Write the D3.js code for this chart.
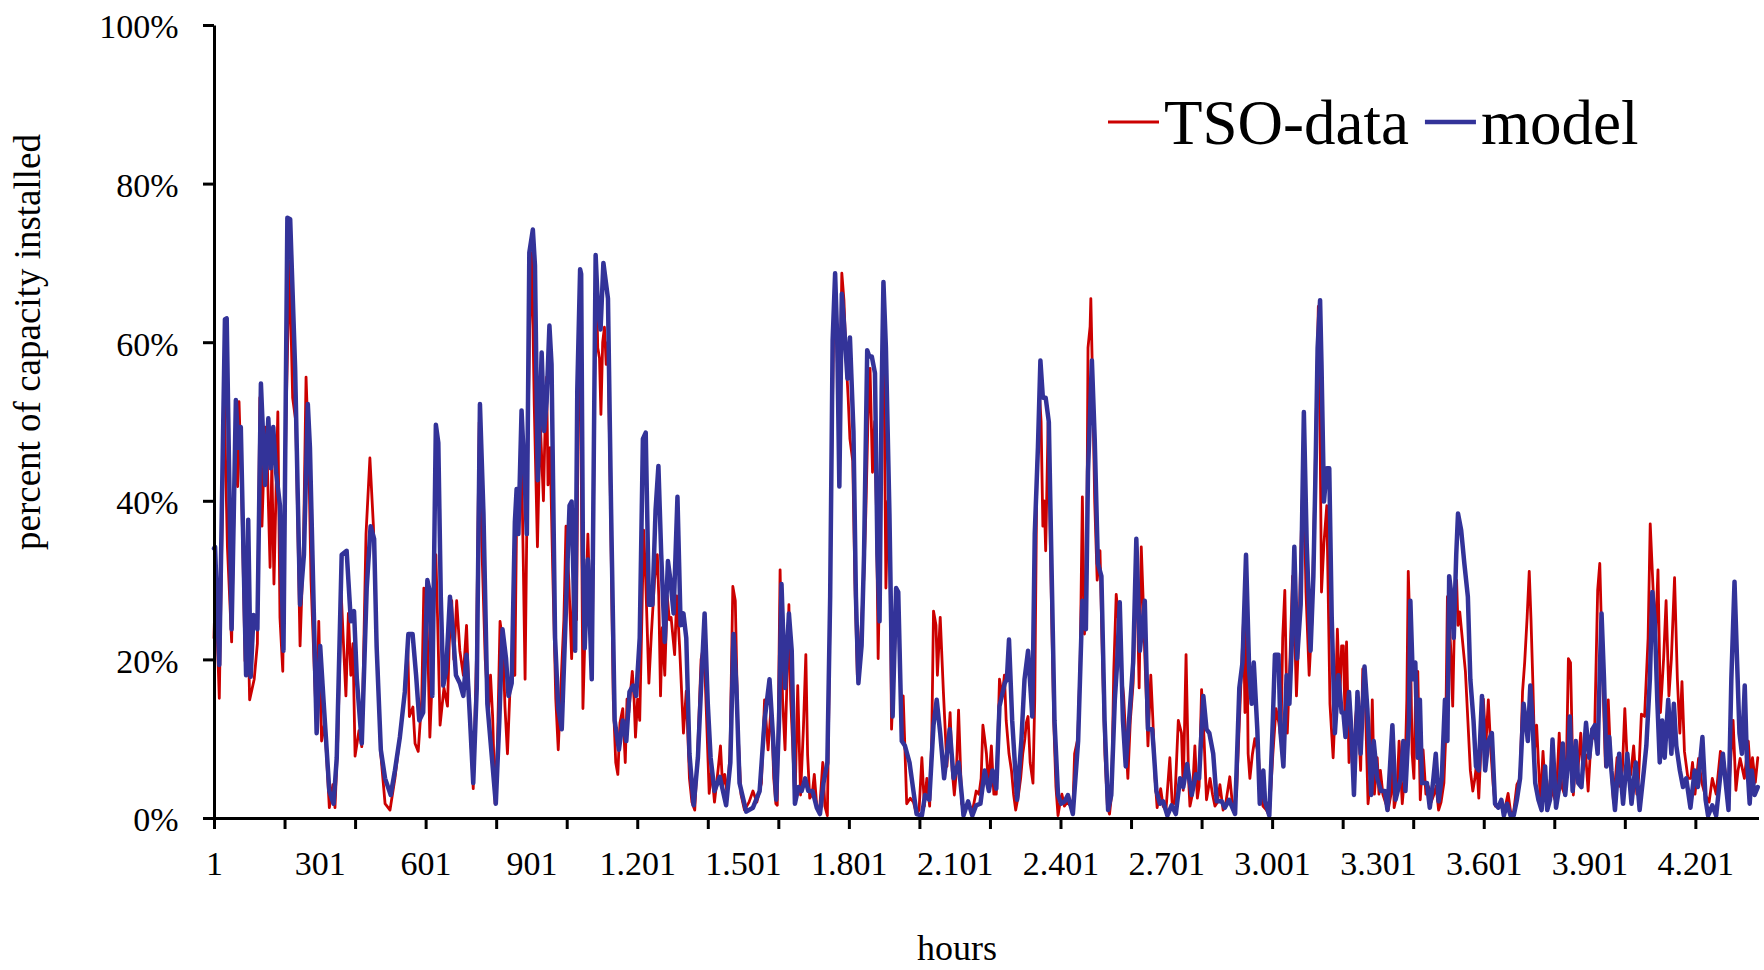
<!DOCTYPE html>
<html>
<head>
<meta charset="utf-8">
<script src="https://cdnjs.cloudflare.com/ajax/libs/d3/7.8.5/d3.min.js"></script>
<style>
  body { margin: 0; background: #fff; }
  svg { display: block; font-family: "Liberation Serif", "Times New Roman", serif; }
  .axis path, .axis line { stroke: #000; stroke-width: 3; }
  .axis text { font-size: 34px; fill: #000; font-family: "Liberation Serif", serif; }
</style>
</head>
<body>
<svg id="chart"></svg>
<script>
// ticks every 200 hours, labels every 300 hours (as in the original spreadsheet chart)
const xTickHours = d3.range(1, 4202, 200);
const xLabelHours = d3.range(1, 4202, 300);
const yTicks = [0, 20, 40, 60, 80, 100];
const lastHour = 4380;
const seriesNames = ["TSO-data", "model"];

// [hour, percent of capacity installed]
const tso = [
  [1,22.7],[5,30],[16,15.1],[25,40],[30,55],[34,44.6],[39,34.2],[51,22.2],[60,45],[68,41.8],[72,52.5],[80,40],
  [89,19.8],[95,30],[102,14.9],[115,17.5],[124,22],[131,53],[137,36.8],[146,49.3],[152,45],[160,31.6],[165,45],
  [171,29.5],[182,51.2],[188,25.3],[196,18.5],[205,50],[215,70.2],[224,53],[233,50],[245,21.7],[255,35],[262,55.6],
  [270,45],[276,30],[286,18],[292,11],[298,24.8],[306,9.7],[315,12],[328,1.3],[338,4.2],[344,1.3],[352,10],[362,28],
  [370,20.1],[375,15.4],[382,25.8],[389,18],[395,22],[401,7.8],[412,11],[420,9],[432,35.8],[443,45.4],[453,36.8],
  [462,22.7],[474,8],[486,1.8],[500,1],[514,5],[527,9.9],
  [540,15],[550,22],[555,12.8],[565,14],[571,9.4],[580,8.4],[590,15],[596,29],[603,28],[608,20],[613,10.2],[620,18],
  [626,30],[630,33.2],[635,25],[642,11.7],[653,16.4],[663,14.1],[668,22],[675,27.4],[681,20],[689,27.4],[698,21.1],
  [708,18],[717,24.3],[725,14],[736,3.7],[745,20],[753,49.9],[760,35],[770,20],[779,13.3],[785,18],[791,12.8],
  [798,1.8],[805,10],[812,24.8],[820,22],[826,14],[833,8.1],[840,16],[848,18],[854,18],[859,38],[864,40.5],[873,45],
  [878,32],[883,17.5],[890,45],[896,62],[902,71.3],[909,52],[918,34.2],[926,50],[935,40],[940,50],[944,55.6],
  [948,42],[954,46.7],[962,30],[970,15],[977,8.6],[987,19.1],[993,25],[999,36.8],[1007,30],[1015,20.1],[1022,33],
  [1029,25],[1034,54],[1039,65],[1047,13.8],[1054,25],[1061,35.8],[1068,25],[1073,18],[1080,55],[1085,68],
  [1089,59.3],[1094,58],[1098,50.9],[1103,60],[1108,61.9],[1113,57.2],[1118,60],[1125,40],[1133,15],[1140,7],
  [1146,5.5],[1152,12],[1160,13.8],[1167,7],[1172,15],[1177,13.3],[1187,18.5],[1192,15],[1196,10.2],[1202,15],
  [1208,12.3],[1214,25],[1219,36.3],[1225,30],[1234,17],[1241,23.2],[1250,30],[1258,33.2],[1262,28],[1267,15.4],
  [1272,24],[1279,18],[1286,28],[1292,25],[1297,25.3],[1307,20.6],[1313,28],[1321,21.7],[1332,10.7],[1340,16],
  [1349,5],[1356,2],[1364,1],[1372,8],[1382,20],[1390,22],[1397,13.3],[1405,3.1],[1412,6],[1420,2],[1430,6],
  [1437,9.1],[1443,4],[1449,5.5],[1456,3],[1464,8],[1472,29.2],[1479,27.4],[1486,11.7],[1495,3],[1505,1],[1518,2],
  [1529,3.4],[1540,2],[1553,4.4],[1562,14.9],[1572,8.6],[1581,14.4],[1588,5],[1594,1.8],[1598,1.6],
  [1606,31.3],[1613,15],[1620,8.6],[1626,18],[1631,26.9],[1636,15],[1641,10],[1648,1.8],[1656,16.7],[1664,2.9],
  [1672,11.2],[1679,20.6],[1684,8],[1690,2.5],[1697,3],[1703,5.5],[1710,1.5],[1718,1],[1727,7],[1733,1.5],
  [1740,0.3],[1746,20],[1752,45],[1758,62],[1762,66],[1768,58],[1774,48],[1781,68.7],[1787,65.3],[1793,58],
  [1799,53],[1804,47.8],[1812,45],[1818,30],[1825,18],[1831,20],[1837,24.8],[1843,30],[1849,38.4],[1855,50],
  [1861,56.7],[1868,43.6],[1874,50],[1879,39.4],[1884,20.1],[1890,35],[1894,55],[1899,65.5],[1906,29],[1912,40],
  [1917,35],[1922,11.2],[1930,20],[1936,28],[1943,25],[1950,12],[1955,15.4],[1965,1.8],[1975,2.5],[1984,2],
  [1993,0.5],[2000,1],[2008,7.6],[2015,1.5],[2022,5],[2030,1.5],[2036,10],[2041,26.1],[2048,24.3],[2052,18],
  [2060,25.3],[2069,15.9],[2079,6.5],[2088,13.3],[2094,6],[2100,2.9],[2106,6],[2112,13.6],[2121,1.8],[2128,1],
  [2135,1.3],[2143,1.5],[2152,1],[2162,3.4],[2170,3],[2176,5],[2181,11.7],[2186,10],[2191,8.1],[2197,4],[2205,9.1],
  [2212,3],[2219,3],[2228,17.5],[2236,15.4],[2242,18],[2247,12.3],[2255,8.1],[2262,6],[2268,3],[2274,1],[2282,3],
  [2288,5],[2294,8.1],[2300,10],[2304,12],[2309,12.8],[2315,7],[2323,4.4],[2328,15],[2334,43.6],[2342,53],
  [2346,50],[2351,36.8],[2355,40],[2359,33.7],[2366,49.9],[2370,40],[2375,27.9],[2382,12],[2388,4],[2394,0.3],
  [2400,2],[2405,3],[2412,1.5],[2420,2],[2430,1.5],[2436,1],[2441,8.1],[2450,10],[2457,20],[2463,40.5],[2469,23.2],
  [2475,30],[2479,59.3],[2485,62],[2487,65.5],[2492,55],[2498,39.9],[2505,30],[2513,33.7],[2520,20],[2527,8],
  [2534,1.5],[2540,0.5],[2546,3],[2552,18.5],[2559,28.2],[2567,24.3],[2574,18],[2580,15.4],[2586,10],[2592,5],
  [2599,12.3],[2607,17],[2616,33.2],[2624,16.4],[2630,34.2],[2635,28],[2640,20.6],[2649,9.1],[2657,18],[2663,12.3],
  [2669,5],[2675,1.3],[2685,3.7],[2692,1.5],[2700,1],[2711,7.6],[2718,1.5],[2725,2],[2735,12.3],[2744,10.7],
  [2749,3.5],[2757,20.6],[2764,5],[2768,1.5],[2775,3],[2782,9.1],[2789,2.5],[2794,4],[2801,16.2],[2808,10],
  [2815,2.3],[2825,5],[2832,3],[2839,1.5],[2846,2],[2853,4.2],[2862,1],[2870,2],[2881,5.2],[2890,1],[2900,3],
  [2908,12],[2914,18.5],[2920,25],[2924,13.3],[2928,30],[2933,8.1],[2938,5],[2945,8],[2952,10],[2962,8.1],
  [2969,3],[2975,1.5],[2985,1],[2993,0.3],[3003,8],[3012,13.8],[3020,12],[3026,10],[3031,22.7],[3037,28.7],
  [3044,10.7],[3051,19.1],[3059,30.5],[3064,25],[3070,15.4],[3078,25],[3085,38.4],[3090,44.1],[3097,28.5],
  [3106,18],[3114,25],[3122,41.5],[3132,64.5],[3137,48.8],[3141,28.5],[3148,34.7],[3156,39.4],[3165,14.4],
  [3174,7.6],[3181,15],[3186,23.8],[3193,14.9],[3198,21.7],[3203,21.7],[3208,12],[3212,22.2],[3219,7],
  [3226,12],[3233,3],[3237,12.3],[3243,15],[3252,6],[3258,18.8],[3264,18],[3268,10],[3273,1.8],[3280,5],
  [3285,14.9],[3291,3],[3299,7.6],[3304,3],[3308,6],[3315,3],[3322,2],[3330,1],[3338,3],[3343,10],[3347,1.3],
  [3355,3],[3361,9.7],[3370,1.8],[3378,6],[3383,15],[3387,31.1],[3393,22],[3398,8.1],[3403,5],[3408,16],
  [3414,18.5],[3421,2.3],[3429,8.6],[3437,3],[3444,4],[3452,2],[3460,3],[3466,4],[3473,1],[3480,2],[3488,4.4],
  [3493,10],[3498,27.9],[3503,25],[3507,21.7],[3513,14.1],[3519,26.9],[3524,30],[3528,24.3],[3533,26],
  [3540,22.7],[3549,18.5],[3556,12.3],[3563,6],[3570,3.4],[3576,5],[3581,7],[3587,2.5],[3596,12],[3600,15],
  [3607,9.1],[3614,14.9],[3621,8.6],[3628,4],[3634,1.5],[3642,1.5],[3650,2],[3660,1],[3670,3.1],[3678,0.5],
  [3686,0.8],[3695,4.2],[3704,5],[3711,15.9],[3717,19.6],[3724,25.3],[3730,31.1],[3735,25],[3740,17.5],
  [3745,8.6],[3751,11.7],[3756,7],[3762,2],[3769,8.4],[3775,4],[3782,2],[3790,5],[3797,3],[3806,2],[3815,10.7],
  [3822,4],[3830,3],[3836,8],[3841,20.1],[3847,19.6],[3855,2.9],[3862,7.5],[3868,6],[3876,10.7],[3882,6],
  [3890,8],[3897,3.4],[3907,11.2],[3915,10],[3924,28.7],[3930,32.1],[3938,18.5],[3946,6.5],[3954,14.9],[3961,7],
  [3969,2],[3979,7.6],[3987,4],[3994,6],[4001,13.8],[4010,5],[4018,5.5],[4026,9.1],[4035,3],[4040,5],[4048,13.1],
  [4057,12.8],[4067,22.7],[4073,37.1],[4081,29],[4088,22.7],[4095,31.3],[4102,13.3],[4111,20.1],[4118,27.4],
  [4126,15.4],[4133,20.1],[4142,30.3],[4150,17.5],[4157,10.7],[4163,17.2],[4170,8.4],[4180,5],[4188,5],[4193,7],
  [4200,3],[4210,7.5],[4219,4.5],[4228,3],[4240,2],[4249,5],[4260,3],[4272,8.4],[4280,7.5],[4289,5],[4298,5],
  [4308,12.3],[4316,3.5],[4322,6],[4328,7.5],[4340,5],[4351,9.7],[4358,5],[4363,7.6],[4371,4.5],[4378,7.6]
];

const model = [
  [1,34],[4,34.2],[16,19.3],[32,62.9],[37,63],[51,23.8],[63,52.7],[70,46.7],[77,49.3],[92,18],[98,37.6],[105,17.8],
  [113,25.6],[124,23.8],[134,54.8],[146,42],[155,50.4],[162,44.1],[169,49.3],[177,43.6],[188,39.4],[198,21.1],
  [209,75.7],[217,75.5],[231,56.7],[245,26.9],[256,33.2],[267,52.2],[273,46.7],[292,10.7],[302,21.7],[313,13.8],
  [328,3.4],[340,1.8],[349,7.6],[363,33.2],[377,33.7],[389,24.8],[398,26.1],[406,17.5],[420,9.4],[434,29],
  [445,36.8],[455,35.2],[462,21.7],[474,8.6],[486,5],[502,2.9],[514,6],[528,10.2],[542,15.9],[552,23.2],[564,23.2],
  [574,18],[583,12.3],[594,13.3],[606,30],[613,28.5],[620,15.4],[630,49.6],[637,47.3],[644,27.9],[651,16.7],
  [659,18.5],[670,27.9],[679,23.2],[687,18],[698,17],[708,15.4],[717,20.6],[727,12.3],[736,4.4],[746,16.4],
  [755,52.2],[765,38.4],[776,14.4],[788,8.1],[800,1.8],[810,12.3],[819,23.8],[829,20.1],[836,15.4],[845,17],
  [854,37.3],[859,41.5],[864,35.8],[873,51.4],[881,43.6],[888,35.8],[895,71.3],[905,74.2],[911,69.7],[919,42.6],
  [930,58.7],[937,48.8],[944,52.5],[952,62.1],[958,57.2],[968,22.7],[977,13.8],[987,11.2],[996,22.7],[1009,39.4],
  [1015,39.9],[1025,21.1],[1031,54],[1039,69.2],[1042,68.6],[1047,33.2],[1052,21.4],[1061,32.6],[1072,17.5],
  [1083,71],[1089,65],[1097,61.6],[1105,70],[1118,65.5],[1127,38.4],[1137,12.3],[1149,8.6],[1160,12.3],[1170,9.7],
  [1179,15.9],[1189,16.7],[1198,15.4],[1208,22.7],[1217,47.8],[1225,48.6],[1234,26.9],[1244,26.9],[1253,38.9],
  [1261,44.4],[1269,33.2],[1279,22.2],[1288,32.4],[1295,30],[1304,25.8],[1315,40.5],[1324,24.3],[1332,25.8],
  [1340,22.7],[1349,8.1],[1361,1.6],[1373,7.6],[1383,17.5],[1392,25.8],[1401,14.4],[1409,7.6],[1420,3.4],
  [1435,5.2],[1453,1.6],[1465,7],[1474,23.2],[1482,16.7],[1491,4.4],[1510,0.8],[1529,1.3],[1548,3.4],[1562,12.3],
  [1576,17.5],[1586,10.2],[1595,2.3],[1603,12.3],[1610,29.5],[1620,16.4],[1631,25.8],[1639,21.1],[1648,1.8],
  [1658,3.9],[1667,3.4],[1677,5],[1686,3.4],[1698,3.4],[1710,1.3],[1719,0.5],[1729,4.4],[1740,7],[1748,28],
  [1755,60.3],[1762,68.7],[1768,60.3],[1774,41.8],[1781,66.1],[1787,62.4],[1797,55.4],[1804,60.6],[1814,48.8],
  [1821,27.9],[1828,17],[1837,21.7],[1844,33.2],[1853,59],[1859,58.2],[1866,58.2],[1875,56.1],[1882,33.2],
  [1888,24.8],[1894,54],[1899,67.6],[1906,59.3],[1916,38.4],[1925,12.8],[1935,29],[1941,28.5],[1951,9.7],
  [1960,9.1],[1973,7],[1984,3.4],[1993,0.5],[2008,0.3],[2017,2.9],[2029,2.3],[2041,11.7],[2050,14.9],[2060,10.7],
  [2071,5],[2087,11.2],[2098,5],[2112,7],[2121,2.9],[2126,0.3],[2139,2.1],[2151,0.3],[2162,1.6],[2174,1.8],
  [2186,6],[2198,3.4],[2208,6],[2219,3.7],[2228,14.1],[2243,17],[2249,17.5],[2255,22.5],[2264,12.3],[2278,2.3],
  [2290,9.7],[2299,17.5],[2309,21.1],[2321,12.8],[2328,35.8],[2337,46.7],[2344,57.7],[2351,53],[2359,53],
  [2368,49.9],[2375,33.2],[2384,12.3],[2394,2.9],[2403,1.8],[2413,2.1],[2422,2.9],[2436,0.5],[2451,9.7],
  [2463,27.4],[2473,23.8],[2479,43.6],[2490,57.7],[2498,47.8],[2507,32.1],[2517,30.5],[2526,12.3],[2536,1],
  [2545,2.9],[2555,14.9],[2561,19.1],[2569,27.2],[2578,12.3],[2586,6.5],[2597,13.3],[2607,19.6],[2616,35.2],
  [2626,21.1],[2640,27.4],[2649,11.2],[2661,11.2],[2666,8.1],[2673,3.4],[2683,1.8],[2692,2.1],[2704,0.3],
  [2716,1.6],[2728,0.5],[2740,5],[2749,3.9],[2760,6.8],[2773,2.9],[2785,5.5],[2794,5],[2806,15.4],[2815,11.2],
  [2823,10.7],[2834,8.1],[2844,2.1],[2858,2.1],[2867,1.3],[2879,2.3],[2896,0.5],[2908,16.4],[2917,19.6],
  [2927,33.2],[2936,18.5],[2943,14.4],[2949,19.6],[2959,11.2],[2966,1.8],[2976,6],[2981,2.1],[2993,0.3],
  [3003,12.3],[3009,20.6],[3019,20.6],[3025,10.7],[3033,6.5],[3042,18],[3050,14.4],[3057,22.2],[3064,34.2],
  [3072,20.1],[3082,26.9],[3091,51.2],[3099,34.7],[3110,21.1],[3118,30.5],[3124,43.6],[3130,59.3],[3137,65.3],
  [3141,57.2],[3148,39.9],[3156,44.1],[3163,44.1],[3170,25.3],[3179,10.7],[3189,18],[3198,13.3],[3203,13.3],
  [3209,10.2],[3219,15.9],[3226,10.7],[3233,2.9],[3243,15.9],[3252,8.1],[3263,19.1],[3271,13.8],[3282,2.9],
  [3289,9.7],[3299,5],[3310,3.4],[3321,3.4],[3328,1],[3342,11.7],[3351,2.3],[3366,5],[3373,9.7],[3379,3.4],
  [3389,12.3],[3393,27.4],[3400,17.5],[3407,19.6],[3414,7.6],[3420,14.9],[3426,4.4],[3440,4.4],[3448,1.3],
  [3457,4.4],[3465,8.1],[3473,2.1],[3482,5],[3491,14.9],[3498,9.7],[3503,30.5],[3510,27.9],[3516,22.7],
  [3523,33.2],[3528,38.4],[3537,36.3],[3546,32.1],[3556,27.9],[3563,17.5],[3572,12.3],[3579,6.5],[3587,6],
  [3596,15.4],[3605,6],[3614,9.7],[3624,10.7],[3633,1.8],[3642,1.3],[3651,2.3],[3658,0.3],[3667,1.8],[3677,0.3],
  [3686,0.3],[3695,2.3],[3704,5],[3714,14.4],[3720,12.3],[3726,9.7],[3733,16.7],[3739,12.3],[3747,4.4],
  [3756,2.3],[3765,1],[3775,6.5],[3781,1],[3789,2.3],[3796,9.9],[3806,1.3],[3815,3.9],[3825,9.4],[3832,2.9],
  [3841,7.6],[3845,12.8],[3853,3.4],[3862,9.7],[3869,4.4],[3878,3.9],[3891,12],[3900,7.6],[3909,11.2],
  [3916,11.7],[3924,8.1],[3930,18.5],[3935,25.8],[3942,17.5],[3949,6.5],[3957,10.2],[3963,6],[3973,1],[3985,8.1],
  [3996,1.8],[4008,8.1],[4020,1.8],[4032,7],[4043,1],[4055,6],[4062,9.1],[4072,17.5],[4079,28.5],[4086,24.8],
  [4093,14.9],[4100,7],[4107,12.3],[4114,7.6],[4124,14.9],[4133,8.1],[4140,14.4],[4147,9.1],[4157,6],[4166,3.9],
  [4175,5],[4187,1.3],[4199,6],[4208,3.9],[4221,10.2],[4230,2.3],[4237,0.3],[4249,1.6],[4260,0.3],[4272,5.5],
  [4279,8.1],[4287,4.4],[4295,1],[4303,17.5],[4312,29.8],[4319,20.1],[4326,10.7],[4333,8.1],[4341,16.7],
  [4347,7.6],[4355,1.8],[4361,6],[4369,2.9],[4378,3.9]
];

const colors = ["#cc0000", "#333399"];
const widths = [2.8, 4.5];

const W = 1764, H = 970;
const margin = {top: 25, right: 5.5, bottom: 152, left: 214},
    width = W - margin.left - margin.right,
    height = H - margin.top - margin.bottom;

const svg = d3.select("#chart").attr("width", W).attr("height", H);
const chart = svg.append("g").attr("transform", `translate(${margin.left},${margin.top})`);

const xScale = d3.scaleLinear().domain([1, lastHour]).range([0, width]);
const yScale = d3.scaleLinear().domain([0, 100]).range([height, 0]);

const nl = d3.formatLocale({decimal: ",", thousands: ".", grouping: [3], currency: ["", ""]});
const fmtHour = nl.format(",d");

const line = d3.line()
    .x(d => xScale(d[0]))
    .y(d => yScale(d[1]));

[tso, model].forEach((s, i) => {
    chart.append("path")
        .datum(s)
        .attr("fill", "none")
        .attr("stroke", colors[i])
        .attr("stroke-width", widths[i])
        .attr("stroke-linejoin", "round")
        .attr("stroke-linecap", "round")
        .attr("d", line);
});

// x axis: tick marks every 200 h
chart.append("g")
    .attr("class", "x axis")
    .attr("transform", `translate(0,${height})`)
    .call(d3.axisBottom(xScale).tickValues(xTickHours).tickSize(11).tickSizeOuter(0).tickFormat(""));

// x labels every 300 h
const xLab = chart.append("g")
    .attr("class", "x axis labels")
    .attr("transform", `translate(0,${height})`)
    .call(d3.axisBottom(xScale).tickValues(xLabelHours).tickSize(0).tickFormat(fmtHour));
xLab.select(".domain").remove();
xLab.selectAll("text").attr("y", 57).attr("dy", 0);

const yAxis = chart.append("g")
    .attr("class", "y axis")
    .call(d3.axisLeft(yScale).tickValues(yTicks).tickSize(11).tickSizeOuter(0).tickPadding(24.5)
        .tickFormat(d => d + "%"));
yAxis.selectAll("text").attr("dy", "0.38em");

svg.append("text")
    .attr("x", 957)
    .attr("y", 960)
    .attr("text-anchor", "middle")
    .attr("font-size", 36)
    .text("hours");

svg.append("text")
    .attr("transform", "translate(40,342) rotate(-90)")
    .attr("text-anchor", "middle")
    .attr("font-size", 37)
    .text("percent of capacity installed");

// legend
const legend = svg.append("g").attr("class", "legend");
let lx = 1108;
seriesNames.forEach((name, i) => {
    legend.append("line")
        .attr("x1", lx).attr("x2", lx + 51)
        .attr("y1", 122).attr("y2", 122)
        .attr("stroke", colors[i])
        .attr("stroke-width", widths[i]);
    const t = legend.append("text")
        .attr("x", lx + 56)
        .attr("y", 144)
        .attr("font-size", 63)
        .text(name);
    lx = lx + 56 + t.node().getComputedTextLength() + 16;
});
</script>
</body>
</html>
